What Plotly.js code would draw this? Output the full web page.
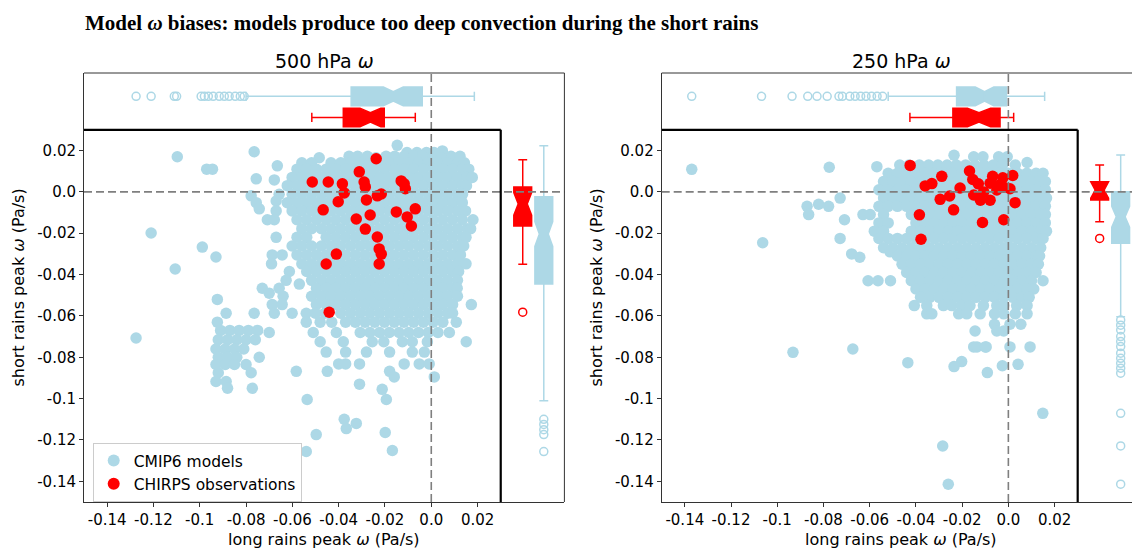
<!DOCTYPE html>
<html><head><meta charset="utf-8">
<script src="https://cdn.plot.ly/plotly-3.0.1.min.js"></script>
<style>html,body{margin:0;padding:0;background:#fff}#chart{width:1132px;height:552px}</style>
</head><body><div id="chart"></div>
<script>
// ---------- tick labels ----------
const tickVals = [-0.14, -0.12, -0.10, -0.08, -0.06, -0.04, -0.02, 0.0, 0.02];
const tickText = ['-0.14', '-0.12', '-0.1', '-0.08', '-0.06', '-0.04', '-0.02', '0.0', '0.02'];

// ---------- 500 hPa: CMIP6 models, rows of [short rains y, long rains x...] ----------
const cmip500Rows = [
  [0.0225, -0.0147],
  [0.0198, 0.0048],
  [0.0194, -0.0765],
  [0.0190, -0.0105, -0.0062, -0.0021, 0.0012],
  [0.0172, -0.0355, -0.0318, -0.0276, -0.0195, -0.0158, -0.0117, -0.0074, -0.0036, 0.0009, 0.0085, 0.0124],
  [0.0170, -0.1097],
  [0.0165, -0.0484, -0.0239, 0.0045],
  [0.0141, -0.0559, -0.0517, -0.0433, -0.0391, -0.0349, -0.0307, -0.0265, -0.0223, -0.0181, -0.0139, -0.0097, -0.0055, -0.0013, 0.0029, 0.0071, 0.0113, 0.0143],
  [0.0126, -0.0665],
  [0.0110, -0.0970, -0.0945, -0.0580, -0.0538, -0.0496, -0.0454, -0.0412, -0.0370, -0.0328, -0.0286, -0.0244, -0.0202, -0.0160, -0.0118, -0.0076, -0.0034, 0.0008, 0.0050, 0.0092, 0.0134, 0.0162],
  [0.0070, -0.0601, -0.0559, -0.0517, -0.0475, -0.0433, -0.0391, -0.0349, -0.0307, -0.0265, -0.0223, -0.0181, -0.0139, -0.0097, -0.0055, -0.0013, 0.0029, 0.0071, 0.0113, 0.0155, 0.0177],
  [0.0063, -0.0756],
  [0.0058, -0.0678],
  [0.0030, -0.0622, -0.0580, -0.0538, -0.0496, -0.0454, -0.0412, -0.0370, -0.0328, -0.0286, -0.0244, -0.0202, -0.0160, -0.0118, -0.0076, -0.0034, 0.0008, 0.0050, 0.0092, 0.0134, 0.0152],
  [-0.0012, -0.0657, -0.0601, -0.0559, -0.0517, -0.0475, -0.0433, -0.0391, -0.0349, -0.0307, -0.0265, -0.0223, -0.0181, -0.0139, -0.0097, -0.0055, -0.0013, 0.0029, 0.0071, 0.0113, 0.0135],
  [-0.0019, -0.0778],
  [-0.0044, -0.0670],
  [-0.0052, -0.0756, -0.0622, -0.0580, -0.0538, -0.0496, -0.0454, -0.0412, -0.0370, -0.0328, -0.0286, -0.0244, -0.0202, -0.0160, -0.0118, -0.0076, -0.0034, 0.0008, 0.0050, 0.0092, 0.0134],
  [-0.0082, -0.0743],
  [-0.0092, -0.0670, -0.0601, -0.0559, -0.0517, -0.0475, -0.0433, -0.0391, -0.0349, -0.0307, -0.0265, -0.0223, -0.0181, -0.0139, -0.0097, -0.0055, -0.0013, 0.0029, 0.0071, 0.0113, 0.0148],
  [-0.0135, -0.0708, -0.0678, -0.0580, -0.0538, -0.0496, -0.0454, -0.0412, -0.0370, -0.0328, -0.0286, -0.0244, -0.0202, -0.0160, -0.0118, -0.0076, -0.0034, 0.0008, 0.0050, 0.0092, 0.0134, 0.0180],
  [-0.0178, -0.0559, -0.0517, -0.0475, -0.0433, -0.0391, -0.0349, -0.0307, -0.0265, -0.0223, -0.0181, -0.0139, -0.0097, -0.0055, -0.0013, 0.0029, 0.0071, 0.0113, 0.0155, 0.0170],
  [-0.0199, -0.1210],
  [-0.0220, -0.0670, -0.0580, -0.0538, -0.0454, -0.0412, -0.0370, -0.0328, -0.0286, -0.0244, -0.0202, -0.0160, -0.0118, -0.0076, -0.0034, 0.0008, 0.0050, 0.0092, 0.0134, 0.0150],
  [-0.0262, -0.0601, -0.0559, -0.0517, -0.0475, -0.0433, -0.0391, -0.0349, -0.0307, -0.0265, -0.0223, -0.0181, -0.0139, -0.0097, -0.0055, -0.0013, 0.0029, 0.0071, 0.0113, 0.0140],
  [-0.0267, -0.0989],
  [-0.0305, -0.0687, -0.0644, -0.0580, -0.0538, -0.0496, -0.0454, -0.0412, -0.0370, -0.0328, -0.0286, -0.0244, -0.0202, -0.0160, -0.0118, -0.0076, -0.0034, 0.0008, 0.0050, 0.0092, 0.0126],
  [-0.0315, -0.0930],
  [-0.0348, -0.0690, -0.0559, -0.0517, -0.0475, -0.0433, -0.0391, -0.0349, -0.0307, -0.0265, -0.0223, -0.0181, -0.0139, -0.0097, -0.0055, -0.0013, 0.0029, 0.0071, 0.0113, 0.0150],
  [-0.0373, -0.1106],
  [-0.0385, -0.0613, -0.0538, -0.0496, -0.0454, -0.0412, -0.0370, -0.0328, -0.0286, -0.0244, -0.0202, -0.0160, -0.0118, -0.0076, -0.0034, 0.0008, 0.0050, 0.0092, 0.0118],
  [-0.0428, -0.0627, -0.0517, -0.0475, -0.0433, -0.0391, -0.0349, -0.0307, -0.0265, -0.0223, -0.0181, -0.0139, -0.0097, -0.0055, -0.0013, 0.0029, 0.0071, 0.0113],
  [-0.0446, -0.0570],
  [-0.0466, -0.0730, -0.0657, -0.0496, -0.0454, -0.0412, -0.0370, -0.0328, -0.0286, -0.0244, -0.0202, -0.0160, -0.0118, -0.0076, -0.0034, 0.0008, 0.0050, 0.0092, 0.0112],
  [-0.0490, -0.0700],
  [-0.0505, -0.0640, -0.0517, -0.0475, -0.0433, -0.0391, -0.0349, -0.0307, -0.0265, -0.0223, -0.0181, -0.0139, -0.0097, -0.0055, -0.0013, 0.0029, 0.0071, 0.0113],
  [-0.0520, -0.0924],
  [-0.0545, -0.0687, -0.0644, -0.0496, -0.0454, -0.0412, -0.0370, -0.0328, -0.0286, -0.0244, -0.0202, -0.0160, -0.0118, -0.0076, -0.0034, 0.0008, 0.0050, 0.0092, 0.0173],
  [-0.0587, -0.0886, -0.0765, -0.0678, -0.0601, -0.0540, -0.0500, -0.0460, -0.0391, -0.0349, -0.0307, -0.0265, -0.0223, -0.0181, -0.0139, -0.0097, -0.0055, -0.0013, 0.0029, 0.0071, 0.0092],
  [-0.0630, -0.0924, -0.0540, -0.0480, -0.0430, -0.0370, -0.0328, -0.0286, -0.0244, -0.0202, -0.0160, -0.0118, -0.0076, -0.0034, 0.0008, 0.0050, 0.0108],
  [-0.0670, -0.0910, -0.0870, -0.0830, -0.0790, -0.0750],
  [-0.0680, -0.0700, -0.0510, -0.0410, -0.0307, -0.0265, -0.0223, -0.0181, -0.0139, -0.0097, -0.0055, -0.0013, 0.0029, 0.0078],
  [-0.0707, -0.1275],
  [-0.0715, -0.0920, -0.0880, -0.0840, -0.0800, -0.0760],
  [-0.0725, -0.0480, -0.0380, -0.0255, -0.0205, -0.0125, -0.0082, -0.0017, 0.0151],
  [-0.0760, -0.0930, -0.0890, -0.0850, -0.0810],
  [-0.0775, -0.0454, -0.0370, -0.0280, -0.0180, -0.0082, -0.0030],
  [-0.0800, -0.0920, -0.0880, -0.0840, -0.0743],
  [-0.0832, -0.0400, -0.0370, -0.0310, -0.0117, -0.0052, -0.0009],
  [-0.0835, -0.0930, -0.0890, -0.0850, -0.0800],
  [-0.0868, -0.0583, -0.0449, -0.0180],
  [-0.0875, -0.0920, -0.0778],
  [-0.0895, -0.0160, 0.0013],
  [-0.0917, -0.0930, -0.0886],
  [-0.0930, -0.0310],
  [-0.0950, -0.0880, -0.0773],
  [-0.0955, -0.0212],
  [-0.1004, -0.0536, -0.0194],
  [-0.1100, -0.0376],
  [-0.1120, -0.0324],
  [-0.1145, -0.0367],
  [-0.1164, -0.0199],
  [-0.1174, -0.0497],
  [-0.1251, -0.0168],
  [-0.1256, -0.0540]
];

// ---------- 500 hPa: CHIRPS observations ----------
const chirps500X = [-0.0238, -0.0311, -0.0514, -0.0445, -0.0384, -0.0290, -0.0285, -0.0130, -0.0117, -0.0112, -0.0376, -0.0216, -0.0233, -0.0402, -0.0280, -0.0467, -0.0151, -0.0069, -0.0104, -0.0086, -0.0264, -0.0324, -0.0285, -0.0233, -0.0225, -0.0216, -0.0225, -0.0410, -0.0454, -0.0441];
const chirps500Y = [0.0160, 0.0097, 0.0048, 0.0048, 0.0039, 0.0048, 0.0024, 0.0053, 0.0039, 0.0015, -0.0005, -0.0010, -0.0019, -0.0048, -0.0039, -0.0087, -0.0097, -0.0082, -0.0121, -0.0165, -0.0112, -0.0131, -0.0180, -0.0218, -0.0276, -0.0301, -0.0349, -0.0301, -0.0349, -0.0582];

// ---------- 250 hPa: CMIP6 models ----------
const cmip250Rows = [
  [0.0177, -0.0235],
  [0.0170, -0.0150, -0.0110, -0.0042, -0.0005],
  [0.0142, 0.0081],
  [0.0130, -0.0470, -0.0430, -0.0385, -0.0345, -0.0305, -0.0265, -0.0225, -0.0185, -0.0145, -0.0105, -0.0065, -0.0025, 0.0030],
  [0.0122, -0.0569],
  [0.0119, -0.0775],
  [0.0109, -0.1370],
  [0.0090, -0.0520, -0.0480, -0.0440, -0.0400, -0.0360, -0.0320, -0.0280, -0.0240, -0.0200, -0.0160, -0.0120, -0.0080, -0.0040, 0.0000, 0.0040, 0.0080, 0.0120, 0.0150],
  [0.0050, -0.0540, -0.0500, -0.0460, -0.0420, -0.0380, -0.0340, -0.0300, -0.0260, -0.0220, -0.0180, -0.0140, -0.0100, -0.0060, -0.0020, 0.0020, 0.0060, 0.0100, 0.0140, 0.0160],
  [0.0010, -0.0560, -0.0520, -0.0480, -0.0440, -0.0400, -0.0360, -0.0320, -0.0280, -0.0240, -0.0200, -0.0160, -0.0120, -0.0080, -0.0040, 0.0000, 0.0040, 0.0080, 0.0120, 0.0160],
  [-0.0030, -0.0728, -0.0540, -0.0500, -0.0460, -0.0420, -0.0380, -0.0340, -0.0300, -0.0260, -0.0220, -0.0180, -0.0140, -0.0100, -0.0060, -0.0020, 0.0020, 0.0060, 0.0100, 0.0140, 0.0165],
  [-0.0060, -0.0821],
  [-0.0070, -0.0871, -0.0778, -0.0560, -0.0520, -0.0480, -0.0440, -0.0400, -0.0360, -0.0320, -0.0280, -0.0240, -0.0200, -0.0160, -0.0120, -0.0080, -0.0040, 0.0000, 0.0040, 0.0080, 0.0120, 0.0160],
  [-0.0110, -0.0864, -0.0629, -0.0598, -0.0540, -0.0420, -0.0380, -0.0340, -0.0300, -0.0260, -0.0220, -0.0180, -0.0140, -0.0100, -0.0060, -0.0020, 0.0020, 0.0060, 0.0100, 0.0140, 0.0160],
  [-0.0135, -0.0709],
  [-0.0150, -0.0560, -0.0520, -0.0400, -0.0360, -0.0320, -0.0280, -0.0240, -0.0200, -0.0160, -0.0120, -0.0080, -0.0040, 0.0000, 0.0040, 0.0080, 0.0120, 0.0160],
  [-0.0190, -0.0580, -0.0540, -0.0420, -0.0380, -0.0340, -0.0300, -0.0260, -0.0220, -0.0180, -0.0140, -0.0100, -0.0060, -0.0020, 0.0020, 0.0060, 0.0100, 0.0140, 0.0165],
  [-0.0225, -0.0728, -0.0560, -0.0520, -0.0480, -0.0440, -0.0400, -0.0360, -0.0320, -0.0280, -0.0240, -0.0200, -0.0160, -0.0120, -0.0080, -0.0040, 0.0000, 0.0040, 0.0080, 0.0120, 0.0150],
  [-0.0246, -0.1063],
  [-0.0270, -0.0540, -0.0500, -0.0460, -0.0420, -0.0380, -0.0340, -0.0300, -0.0260, -0.0220, -0.0180, -0.0140, -0.0100, -0.0060, -0.0020, 0.0020, 0.0060, 0.0100, 0.0140],
  [-0.0290, -0.0512],
  [-0.0300, -0.0678],
  [-0.0310, -0.0480, -0.0440, -0.0400, -0.0360, -0.0320, -0.0280, -0.0240, -0.0200, -0.0160, -0.0120, -0.0080, -0.0040, 0.0000, 0.0040, 0.0080, 0.0120, 0.0135],
  [-0.0316, -0.0643],
  [-0.0350, -0.0460, -0.0420, -0.0380, -0.0340, -0.0300, -0.0260, -0.0220, -0.0180, -0.0140, -0.0100, -0.0060, -0.0020, 0.0020, 0.0060, 0.0100, 0.0130],
  [-0.0390, -0.0440, -0.0400, -0.0360, -0.0320, -0.0280, -0.0240, -0.0200, -0.0160, -0.0120, -0.0080, -0.0040, 0.0000, 0.0040, 0.0080, 0.0120],
  [-0.0430, -0.0607, -0.0564, -0.0510, -0.0420, -0.0380, -0.0340, -0.0300, -0.0260, -0.0220, -0.0180, -0.0140, -0.0100, -0.0060, -0.0020, 0.0020, 0.0060, 0.0100, 0.0150],
  [-0.0470, -0.0400, -0.0360, -0.0320, -0.0280, -0.0240, -0.0200, -0.0160, -0.0120, -0.0080, -0.0040, 0.0000, 0.0040, 0.0080, 0.0110],
  [-0.0510, -0.0380, -0.0340, -0.0300, -0.0260, -0.0220, -0.0180, -0.0140, -0.0100, -0.0060, -0.0020, 0.0020, 0.0060, 0.0090],
  [-0.0550, -0.0407, -0.0353, -0.0281, -0.0245, -0.0202, -0.0166, -0.0108, -0.0050, -0.0020, 0.0036, 0.0081],
  [-0.0590, -0.0353, -0.0331, -0.0215, -0.0180, -0.0122, -0.0060, -0.0020, 0.0030, 0.0081],
  [-0.0640, -0.0060, 0.0007, 0.0054],
  [-0.0673, -0.0144, -0.0050, -0.0020],
  [-0.0750, -0.0150, -0.0136, -0.0100, -0.0096, 0.0007, 0.0094],
  [-0.0760, -0.0673],
  [-0.0776, -0.0932],
  [-0.0821, -0.0202],
  [-0.0826, -0.0435],
  [-0.0834, 0.0042],
  [-0.0841, -0.0026],
  [-0.0845, -0.0235],
  [-0.0874, -0.0091],
  [-0.1071, 0.0149],
  [-0.1229, -0.0284],
  [-0.1414, -0.0260]
];

// ---------- 250 hPa: CHIRPS observations ----------
const chirps250X = [-0.0425, -0.0288, -0.0168, -0.0154, -0.0068, -0.0024, 0.0019, -0.0130, -0.0079, -0.0043, -0.0021, 0.0007, -0.0360, -0.0331, -0.0209, -0.0254, -0.0295, -0.0150, -0.0121, -0.0079, -0.0107, -0.0050, 0.0029, -0.0237, -0.0385, -0.0112, -0.0020, -0.0378];
const chirps250Y = [0.0128, 0.0075, 0.0101, 0.0060, 0.0075, 0.0068, 0.0079, 0.0039, 0.0042, 0.0031, 0.0023, 0.0015, 0.0029, 0.0040, 0.0019, -0.0020, -0.0036, -0.0015, -0.0040, -0.0040, 0.0000, 0.0009, -0.0052, -0.0087, -0.0111, -0.0148, -0.0135, -0.0229];

// ---------- marginal box statistics: [lowerfence, q1, median, q3, upperfence, notchspan] ----------
const box500TopCmip   = [-0.0800, -0.0346, -0.0164, -0.0039, 0.0186, 0.0043];
const box500TopChirps = [-0.0516, -0.0380, -0.0263, -0.0203, -0.0069, 0.0045];
const box500SideCmip  = [-0.1010, -0.0446, -0.0204, -0.0024, 0.0223, 0.0060];
const box500SideChirps= [-0.0350, -0.0165, -0.0058, 0.0024, 0.0155, 0.0055];
const box250TopCmip   = [-0.0520, -0.0224, -0.0103, -0.0008, 0.0157, 0.0040];
const box250TopChirps = [-0.0426, -0.0240, -0.0127, -0.0036, 0.0023, 0.0050];
const box250SideCmip  = [-0.0604, -0.0249, -0.0120, 0.0001, 0.0178, 0.0050];
const box250SideChirps= [-0.0144, -0.0039, 0.0009, 0.0049, 0.0130, 0.0040];

// fliers
const out500TopCmip = [-0.1275, -0.1210, -0.1110, -0.1100, -0.0994, -0.0980, -0.0963, -0.0942, -0.0916, -0.0894, -0.0873, -0.0847, -0.0825, -0.0808];
const out500SideCmip = [-0.1100, -0.1125, -0.1150, -0.1174, -0.1256];
const out500SideChirps = [-0.0582];
const out250TopCmip = [-0.1370, -0.1068, -0.0936, -0.0868, -0.0828, -0.0784, -0.0733, -0.0718, -0.0686, -0.0663, -0.0639, -0.0616, -0.0592, -0.0568, -0.0544];
const out250SideCmip = [-0.0620, -0.0645, -0.0668, -0.0700, -0.0724, -0.0748, -0.0780, -0.0805, -0.0829, -0.0853, -0.0877, -0.1071, -0.1229, -0.1414];
const out250SideChirps = [-0.0225];

// ---------- build ----------
const CYAN = '#add8e6', RED = '#ff0000';
function flat(rows){const x=[],y=[];rows.forEach(r=>{for(let i=1;i<r.length;i++){x.push(r[i]);y.push(r[0]);}});return {x,y};}
const TOPC = 0.0462, TOPR = 0.0360, SIDER = 0.0395, SIDEC = 0.0486;
const TOPW = 0.0090, SIDEW = 0.0077;

function hbox(s, pos, color, xa, ya){
  return {type:'box', orientation:'h', y:[pos], lowerfence:[s[0]], q1:[s[1]], median:[s[2]], q3:[s[3]], upperfence:[s[4]],
    notched:true, notchspan:[s[5]], notchwidth:0.25, boxpoints:false, width:TOPW, whiskerwidth:0.5,
    fillcolor:color, line:{color:color, width:1.5}, xaxis:xa, yaxis:ya, showlegend:false, hoverinfo:'skip'};
}
function vbox(s, pos, color, xa, ya){
  return {type:'box', orientation:'v', x:[pos], lowerfence:[s[0]], q1:[s[1]], median:[s[2]], q3:[s[3]], upperfence:[s[4]],
    notched:true, notchspan:[s[5]], notchwidth:0.25, boxpoints:false, width:SIDEW, whiskerwidth:0.5,
    fillcolor:color, line:{color:color, width:1.5}, xaxis:xa, yaxis:ya, showlegend:false, hoverinfo:'skip'};
}
function fliers(vals, pos, horiz, color, xa, ya){
  const p = vals.map(()=>pos);
  return {type:'scatter', mode:'markers', x: horiz?vals:p, y: horiz?p:vals, xaxis:xa, yaxis:ya,
    marker:{symbol:'circle-open', size:8, color:color, line:{width:1.5, color:color}}, showlegend:false, hoverinfo:'skip'};
}

const c500 = flat(cmip500Rows), c250 = flat(cmip250Rows);
const traces = [
  hbox(box500TopCmip, TOPC, CYAN, 'x', 'y'),
  hbox(box500TopChirps, TOPR, RED, 'x', 'y'),
  vbox(box500SideChirps, SIDER, RED, 'x', 'y'),
  vbox(box500SideCmip, SIDEC, CYAN, 'x', 'y'),
  hbox(box250TopCmip, TOPC, CYAN, 'x2', 'y2'),
  hbox(box250TopChirps, TOPR, RED, 'x2', 'y2'),
  vbox(box250SideChirps, SIDER, RED, 'x2', 'y2'),
  vbox(box250SideCmip, SIDEC, CYAN, 'x2', 'y2'),
  fliers(out500TopCmip, TOPC, true, CYAN, 'x', 'y'),
  fliers(out500SideCmip, SIDEC, false, CYAN, 'x', 'y'),
  fliers(out500SideChirps, SIDER, false, RED, 'x', 'y'),
  fliers(out250TopCmip, TOPC, true, CYAN, 'x2', 'y2'),
  fliers(out250SideCmip, SIDEC, false, CYAN, 'x2', 'y2'),
  fliers(out250SideChirps, SIDER, false, RED, 'x2', 'y2'),
  {type:'scatter', mode:'markers', name:'CMIP6 models', x:c500.x, y:c500.y, xaxis:'x', yaxis:'y', marker:{size:11.5, color:CYAN}, hoverinfo:'skip'},
  {type:'scatter', mode:'markers', name:'CHIRPS observations', x:chirps500X, y:chirps500Y, xaxis:'x', yaxis:'y', marker:{size:11.5, color:RED}, hoverinfo:'skip'},
  {type:'scatter', mode:'markers', name:'CMIP6 models', x:c250.x, y:c250.y, xaxis:'x2', yaxis:'y2', marker:{size:11.5, color:CYAN}, showlegend:false, hoverinfo:'skip'},
  {type:'scatter', mode:'markers', name:'CHIRPS observations', x:chirps250X, y:chirps250Y, xaxis:'x2', yaxis:'y2', marker:{size:11.5, color:RED}, showlegend:false, hoverinfo:'skip'}
];

const W = 1132, H = 552;
const yDom = [(H-502)/H, (H-73)/H];
const axCommon = {tickvals:tickVals, ticktext:tickText, ticks:'outside', ticklen:4, tickwidth:1, tickcolor:'#333',
  showgrid:false, zeroline:false, showline:true, linecolor:'#333', linewidth:1, tickfont:{size:15, color:'#000'}, fixedrange:true};
const frame = '#333', dashC = '#7f7f7f';
function panelShapes(xa, ya, rightFrame){
  const s = [
    {type:'line', xref:xa+' domain', yref:ya+' domain', x0:0, x1:1, y0:1, y1:1, line:{color:frame, width:1}, layer:'above'},
    {type:'line', xref:xa+' domain', yref:ya, x0:0, x1:1, y0:0, y1:0, line:{color:dashC, width:1.6, dash:'8px,4px'}, layer:'above'},
    {type:'line', xref:xa, yref:ya+' domain', x0:0, x1:0, y0:0, y1:1, line:{color:dashC, width:1.6, dash:'8px,4px'}, layer:'above'},
    {type:'line', xref:xa, yref:ya, x0:-0.15, x1:0.03, y0:0.03, y1:0.03, line:{color:'#000', width:2.2}, layer:'above'},
    {type:'line', xref:xa, yref:ya, x0:0.03, x1:0.03, y0:-0.15, y1:0.03, line:{color:'#000', width:2.2}, layer:'above'}
  ];
  if (rightFrame) s.push({type:'line', xref:xa+' domain', yref:ya+' domain', x0:1, x1:1, y0:0, y1:1, line:{color:frame, width:1}, layer:'above'});
  return s;
}

const layout = {
  width:W, height:H, margin:{l:0, r:0, t:0, b:0}, paper_bgcolor:'#fff', plot_bgcolor:'#fff',
  font:{family:'DejaVu Sans, sans-serif', size:15, color:'#000'},
  boxmode:'overlay', hovermode:false,
  xaxis: Object.assign({}, axCommon, {domain:[84/W, 564.4/W], range:[-0.15, 0.0575], anchor:'y'}),
  yaxis: Object.assign({}, axCommon, {domain:yDom, range:[-0.15, 0.0575], anchor:'x'}),
  xaxis2: Object.assign({}, axCommon, {domain:[661.7/W, 1], range:[-0.15, 0.0535], anchor:'y2'}),
  yaxis2: Object.assign({}, axCommon, {domain:yDom, range:[-0.15, 0.0575], anchor:'x2'}),
  shapes: panelShapes('x','y',true).concat(panelShapes('x2','y2',false)),
  showlegend:true,
  legend:{x:92.7/W, y:(H-443)/H, xanchor:'left', yanchor:'top', bgcolor:'#fff', bordercolor:'#cccccc', borderwidth:1,
    font:{size:15.5, family:'DejaVu Sans, sans-serif'}, itemsizing:'constant', traceorder:'normal'},
  annotations:[
    {text:'<b>Model <i>ω</i> biases: models produce too deep convection during the short rains</b>', xref:'paper', yref:'paper',
     x:83/W, y:(H-23)/H, xanchor:'left', yanchor:'middle', showarrow:false, font:{family:'Liberation Serif, serif', size:21, color:'#000'}},
    {text:'500 hPa <i>ω</i>', xref:'paper', yref:'paper', x:324/W, y:(H-61)/H, xanchor:'center', yanchor:'middle', showarrow:false, font:{size:19}},
    {text:'250 hPa <i>ω</i>', xref:'paper', yref:'paper', x:901/W, y:(H-61)/H, xanchor:'center', yanchor:'middle', showarrow:false, font:{size:19}},
    {text:'long rains peak <i>ω</i> (Pa/s)', xref:'paper', yref:'paper', x:324/W, y:(H-539)/H, xanchor:'center', yanchor:'middle', showarrow:false, font:{size:16}},
    {text:'long rains peak <i>ω</i> (Pa/s)', xref:'paper', yref:'paper', x:901/W, y:(H-539)/H, xanchor:'center', yanchor:'middle', showarrow:false, font:{size:16}},
    {text:'short rains peak <i>ω</i> (Pa/s)', xref:'paper', yref:'paper', x:18/W, y:(H-287.5)/H, xanchor:'center', yanchor:'middle', textangle:-90, showarrow:false, font:{size:16}},
    {text:'short rains peak <i>ω</i> (Pa/s)', xref:'paper', yref:'paper', x:596/W, y:(H-287.5)/H, xanchor:'center', yanchor:'middle', textangle:-90, showarrow:false, font:{size:16}}
  ]
};

Plotly.newPlot('chart', traces, layout, {staticPlot:true, displayModeBar:false});
</script></body></html>
